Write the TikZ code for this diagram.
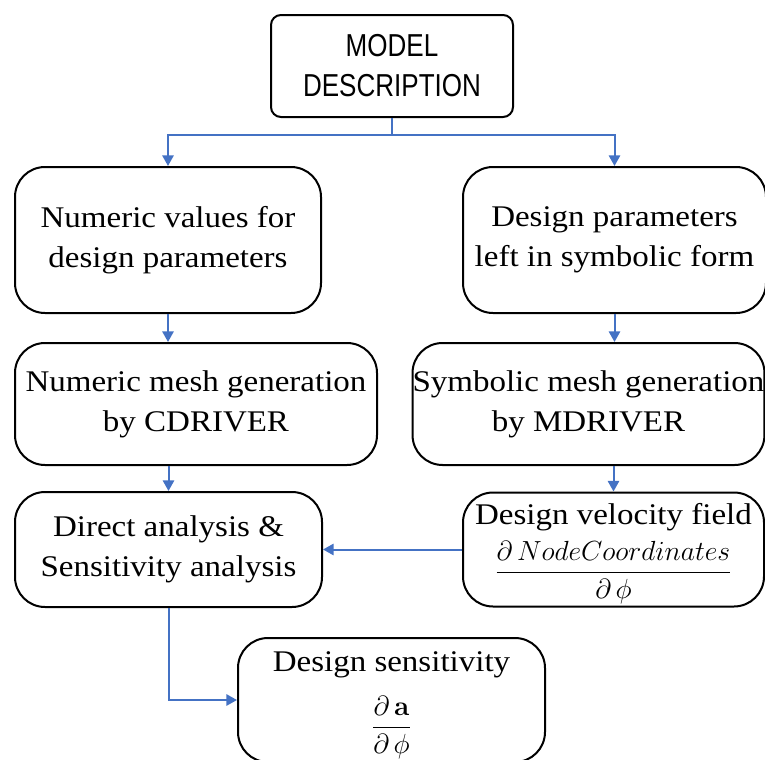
\documentclass[tikz,border=0pt]{standalone}
\usepackage{amsmath}
\usepackage[no-math]{fontspec}
\setmainfont[FakeStretch=1.1]{Liberation Serif}
\newfontfamily\boxsans[FakeStretch=0.82]{Liberation Sans}
\usetikzlibrary{arrows.meta,calc}
\definecolor{flowblue}{HTML}{4472C4}
\tikzset{
  stage/.style={draw=black, line width=1.5pt, rounded corners=22.5pt,
    inner sep=0pt, align=center,
    font=\fontsize{22.5pt}{30pt}\selectfont},
  headbox/.style={stage, rounded corners=7.5pt,
    font=\boxsans\fontsize{23.8pt}{30pt}\selectfont},
  flow/.style={draw=flowblue, line width=1.5pt,
    -{Triangle[length=8pt,width=8.5pt]}},
  flowline/.style={draw=flowblue, line width=1.5pt}
}
\begin{document}
\begin{tikzpicture}[x=0.75pt, y=-0.75pt]
\useasboundingbox (0,0) rectangle (765,760);

% boxes (coordinates in pixels, y pointing down)
\node[headbox, minimum width=181.5pt, minimum height=76.5pt] (model) at (392,66)
  {MODEL\\DESCRIPTION};
\node[stage, minimum width=229.5pt, minimum height=109.5pt] (numval) at (168,240)
  {Numeric values for\\design parameters};
\node[stage, minimum width=227.25pt, minimum height=109.5pt] (sympar) at (614.5,240)
  {Design parameters\\left in symbolic form};
\node[stage, minimum width=271.5pt, minimum height=91.5pt] (nummesh) at (196,404)
  {Numeric mesh generation\\by CDRIVER};
\node[stage, minimum width=263.25pt, minimum height=91.5pt] (symmesh) at (588.5,404)
  {Symbolic mesh generation\\by MDRIVER};
\node[stage, minimum width=230.25pt, minimum height=86.25pt] (direct) at (168.5,549.5)
  {Direct analysis \&\\Sensitivity analysis};
\node[stage, minimum width=225.75pt, minimum height=85.5pt] (velocity) at (613.5,549.5)
  {\rule{0pt}{21.7pt}Design velocity field\\[7pt]$\dfrac{\partial\, NodeCoordinates}{\partial\, \phi}$};
\node[stage, minimum width=230.25pt, minimum height=93pt] (sens) at (391.5,700)
  {\rule{0pt}{23pt}Design sensitivity\\[13pt]$\dfrac{\partial\, \mathbf{a}}{\partial\, \phi}$};

% connectors
\coordinate (split) at ($(model.south)+(0,17)$);
\draw[flowline] (model.south) -- (split);
\draw[flow] (split) -| (numval.north);
\draw[flow] (split) -| (sympar.north);
\draw[flow] (numval.south) -- (numval.south |- nummesh.north);
\draw[flow] (sympar.south) -- (sympar.south |- symmesh.north);
\draw[flow] (direct.north |- nummesh.south) -- (direct.north);
\draw[flow] (velocity.north |- symmesh.south) -- (velocity.north);
\draw[flow] (velocity.west) -- (velocity.west -| direct.east);
\draw[flow] (direct.south) |- (sens.west);
\end{tikzpicture}
\end{document}
